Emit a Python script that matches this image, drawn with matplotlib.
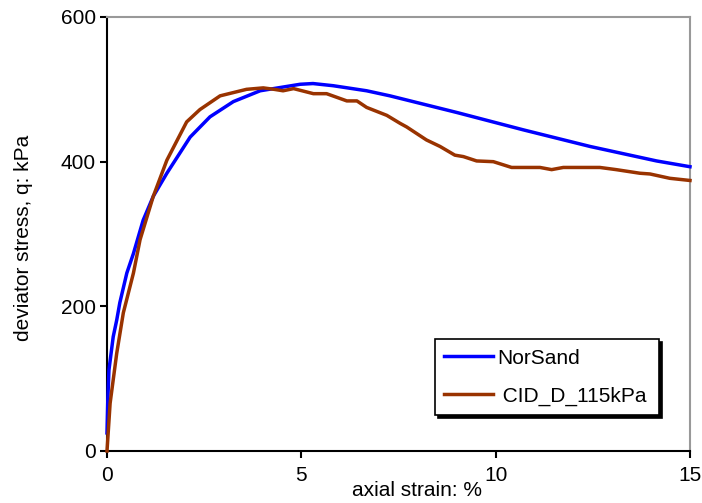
import matplotlib
matplotlib.use("Agg")
import matplotlib.pyplot as plt

plt.rcParams['font.family'] = ['Liberation Sans', 'DejaVu Sans']

# NorSand simulation (axial strain %, deviator stress kPa)
norsand_strain = [0, 0.02, 0.05, 0.16, 0.25, 0.33, 0.51, 0.68, 0.93, 1.19, 1.54,
                  2.14, 2.65, 3.25, 3.94, 4.97, 5.3, 5.82, 6.68, 7.28, 9.0,
                  10.71, 12.43, 14.14, 15.0]
norsand_q = [25, 70, 112, 158, 181, 205, 246, 273, 319, 352, 384,
             434, 462, 483, 498, 507, 508, 505, 498, 491, 468,
             444, 421, 401, 393]

# CID test, 115 kPa
cid_strain = [0, 0.08, 0.25, 0.42, 0.68, 0.85, 1.19, 1.54, 2.05, 2.39, 2.91,
              3.59, 4.02, 4.3, 4.53, 4.8, 5.31, 5.65, 6.17, 6.43, 6.68, 7.2,
              7.54, 7.71, 8.22, 8.57, 8.95, 9.17, 9.51, 9.94, 10.41, 11.14,
              11.44, 11.74, 12.68, 13.1, 13.71, 13.97, 14.48, 15.0]
cid_q = [0, 66, 135, 191, 246, 292, 352, 402, 455, 472, 491,
         500, 502, 500, 498, 501, 494, 494, 484, 484, 475, 464,
         453, 448, 430, 421, 409, 407, 401, 400, 392, 392,
         389, 392, 392, 389, 384, 383, 377, 374]

fig = plt.figure(figsize=(7.02, 5.03), dpi=100)
ax = fig.add_axes([107/702, 1 - 451/503, 583/702, 434/503])

ax.plot(norsand_strain, norsand_q, color='#0000FF', linewidth=2.5,
        label='NorSand', clip_on=False, zorder=3)
ax.plot(cid_strain, cid_q, color='#993300', linewidth=2.5,
        label=' CID_D_115kPa', clip_on=False, zorder=3)

ax.set_xlim(0, 15)
ax.set_ylim(0, 600)
ax.set_xticks([0, 5, 10, 15])
ax.set_yticks([0, 200, 400, 600])

for side in ['left', 'bottom']:
    ax.spines[side].set_color('black')
    ax.spines[side].set_linewidth(1.5)
for side in ['top', 'right']:
    ax.spines[side].set_color('#999999')
    ax.spines[side].set_linewidth(1.5)

ax.tick_params(axis='both', direction='out', length=5, width=1.5,
               labelsize=15, color='black')
ax.tick_params(axis='x', pad=6)
ax.tick_params(axis='y', pad=3)

ax.set_xlabel('axial strain: %', fontsize=15)
ax.xaxis.set_label_coords(0.532, -0.068)
ax.set_ylabel('deviator stress, q: kPa', fontsize=15)
ax.yaxis.set_label_coords(-0.127, 0.49)

leg = ax.legend(loc='lower left', bbox_to_anchor=(0.5626, 0.0829, 0.3842, 0.1),
                mode='expand', borderaxespad=0, fontsize=15, frameon=True,
                fancybox=False, edgecolor='black', framealpha=1,
                handlelength=2.35, handletextpad=0.2, borderpad=0.45,
                labelspacing=0.9,
                shadow={'facecolor': 'black', 'edgecolor': 'black', 'alpha': 1})
leg.get_frame().set_linewidth(1.2)

fig.savefig('out.png', dpi=100)
